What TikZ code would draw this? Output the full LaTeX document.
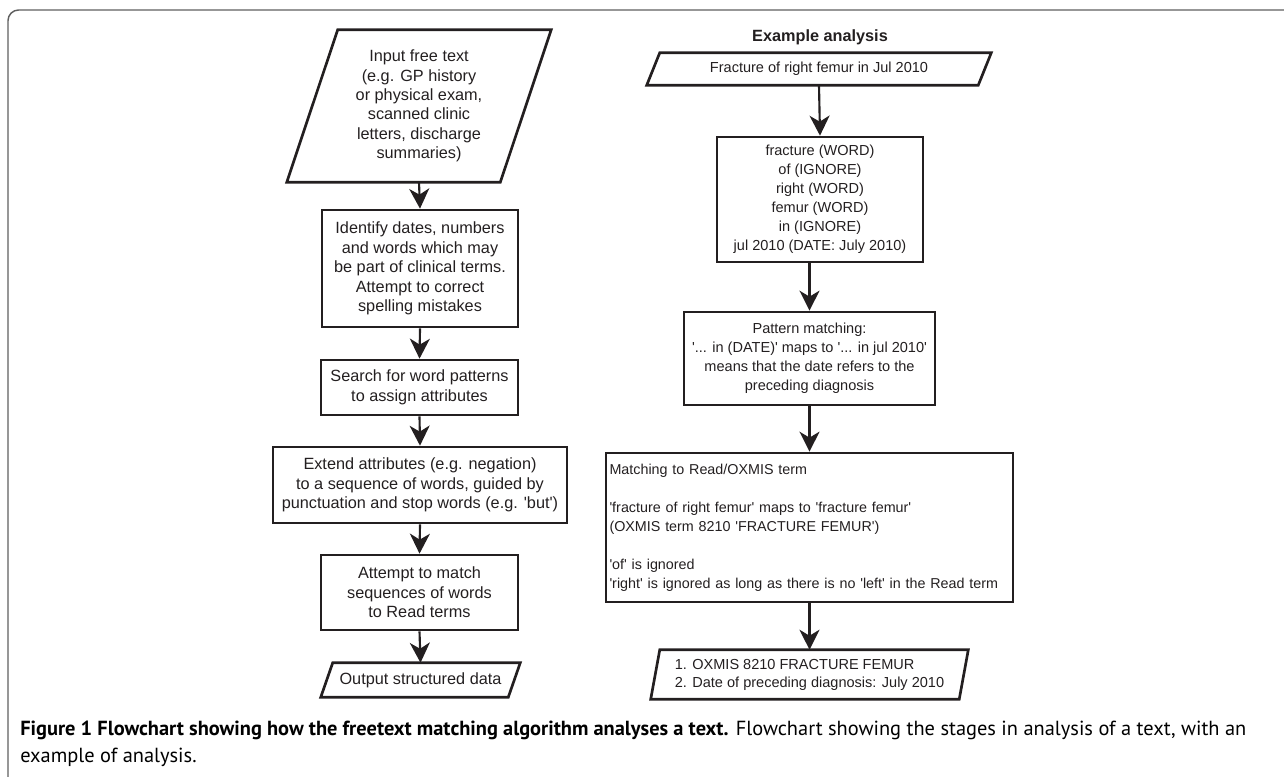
\documentclass[tikz,border=0pt]{standalone}
\usepackage{fontspec}
\setmainfont{Liberation Sans}[Ligatures=TeXOff]
\newfontfamily\capfont{PT Sans}
\usetikzlibrary{arrows.meta,calc}
\definecolor{ink}{RGB}{35,31,32}
\definecolor{framegray}{RGB}{95,95,95}
\newcommand{\parashape}[2]{%
  \draw[box] ([xshift=-#2pt]#1.south west) -- ([xshift=-#2pt]#1.south east)
    -- ([xshift=#2pt]#1.north east) -- ([xshift=#2pt]#1.north west) -- cycle;}
\begin{document}
\begin{tikzpicture}[x=0.75pt,y=-0.75pt,
  every node/.style={font=\fontsize{12.2}{14.6}\selectfont, text=ink, inner sep=0pt, align=center},
  rtxt/.style={font=\fontsize{10.9}{14.25}\selectfont},
  box/.style={draw=ink, line width=2pt},
  rbox/.style={box, rectangle},
  arr/.style={draw=ink, line width=1.6pt, -{Stealth[length=15pt,width=15pt,inset=4.5pt]}},
  captxt/.style={font=\capfont\fontsize{15.3}{20}\selectfont, align=left, anchor=base west, text=black}]
\useasboundingbox (0,0) rectangle (1284,777);
% frame
\draw[framegray, line width=1.1pt, rounded corners=8pt] (8,800) -- (8,10) -- (1300,10);

% left column
\node[minimum width=159.75pt, minimum height=114pt] (in) at (419,106)
  {Input free text\\(e.g. GP history\\or physical exam,\\scanned clinic\\letters, discharge\\summaries)};
\parashape{in}{19.1}
\node[rbox, minimum width=147pt, minimum height=87.75pt] (id) at (420,268.5)
  {Identify dates, numbers\\and words which may\\be part of clinical terms.\\Attempt to correct\\spelling mistakes};
\node[rbox, minimum width=147.75pt, minimum height=41.25pt] (se) at (419.5,387.5)
  {Search for word patterns\\to assign attributes};
\node[rbox, minimum width=220.5pt, minimum height=57pt] (ex) at (420,485)
  {Extend attributes (e.g. negation)\\to a sequence of words, guided by\\punctuation and stop words (e.g. 'but')};
\node[rbox, minimum width=147.75pt, minimum height=56.25pt] (at) at (419.5,592.5)
  {Attempt to match\\sequences of words\\to Read terms};
\node[minimum width=140.25pt, minimum height=25.5pt] (out) at (420.5,680)
  {Output structured data};
\parashape{out}{4.5}

\draw[arr] (in.south) -- (id.north);
\draw[arr] (id.south) -- (se.north);
\draw[arr] (se.south) -- (ex.north);
\draw[arr] (ex.south) -- (at.north);
\draw[arr] (at.south) -- (out.north);

% right column
\node[font=\fontsize{12.2}{14.6}\selectfont\bfseries] (title) at (820,37) {Example analysis};
\node[rtxt, minimum width=248.25pt, minimum height=24pt] (fin) at (819,69)
  {Fracture of right femur in Jul 2010};
\parashape{fin}{4.9}
\node[rbox, rtxt, minimum width=154.5pt, minimum height=93.75pt] (tok) at (820,199.5)
  {fracture (WORD)\\of (IGNORE)\\right (WORD)\\femur (WORD)\\in (IGNORE)\\jul 2010 (DATE: July 2010)};
\node[rbox, rtxt, minimum width=188.25pt, minimum height=69.75pt] (pat) at (809.5,358.5)
  {Pattern matching:\\'... in (DATE)' maps to '... in jul 2010'\\means that the date refers to the\\preceding diagnosis};
\node[rbox, minimum width=305.25pt, minimum height=111.75pt, align=left, text width=300pt,
      font=\fontsize{10.75}{14.25}\selectfont] (mat) at (809.5,527.5)
  {Matching to Read/OXMIS term\\[14.25pt]'fracture of right femur' maps to 'fracture femur'\\(OXMIS term 8210 'FRACTURE FEMUR')\\[14.25pt]'of' is ignored\\'right' is ignored as long as there is no 'left' in the Read term};
\node[minimum width=231pt, minimum height=36.75pt, align=left, font=\fontsize{10.9}{13.5}\selectfont] (res) at (809.5,674.5)
  {1. OXMIS 8210 FRACTURE FEMUR\\2. Date of preceding diagnosis: July 2010};
\parashape{res}{3.4}

\draw[arr] (fin.south) -- (tok.north);
\draw[arr] (tok.south -| pat.north) -- (pat.north);
\draw[arr] (pat.south) -- (mat.north);
\draw[arr] (mat.south) -- (res.north);

% caption
\node[captxt] (cap1) at (20,735)
  {\textbf{Figure 1 Flowchart showing how the freetext matching algorithm analyses a text.} Flowchart showing the stages in analysis of a text, with an};
\node[captxt] (cap2) at (20,762) {example of analysis.};
\end{tikzpicture}
\end{document}
